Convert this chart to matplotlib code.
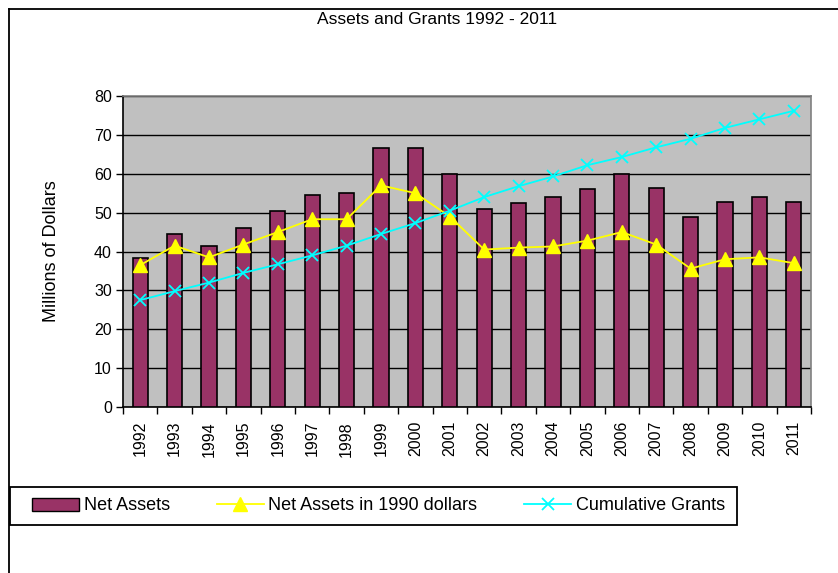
import matplotlib
matplotlib.use("Agg")
import matplotlib.pyplot as plt
from matplotlib.lines import Line2D
from matplotlib.patches import Rectangle, Patch
import numpy as np

years = [str(y) for y in range(1992, 2012)]
net_assets = [38.3, 44.6, 41.3, 46.0, 50.3, 54.6, 55.0, 66.5, 66.5, 60.0,
              51.0, 52.4, 54.0, 56.0, 60.0, 56.4, 49.0, 52.8, 54.0, 52.8]
net_1990 = [36.5, 41.5, 38.5, 41.8, 45.0, 48.3, 48.3, 57.0, 55.0, 49.0,
            40.5, 41.0, 41.3, 42.8, 45.0, 41.8, 35.6, 38.0, 38.5, 37.0]
cum_grants = [27.5, 29.8, 32.0, 34.5, 36.7, 39.0, 41.5, 44.5, 47.3, 50.5,
              54.0, 56.8, 59.3, 62.2, 64.3, 66.8, 69.0, 71.8, 74.0, 76.2]
yticks = [0, 10, 20, 30, 40, 50, 60, 70, 80]

plt.rcParams['font.family'] = ['Liberation Sans', 'DejaVu Sans']
W, H = 838, 573
fig = plt.figure(figsize=(W/100, H/100), dpi=100)

# frame lines (left and top)
fig.add_artist(Line2D([9/W, 9/W], [0, 1-9/H], color='black', lw=1.3, transform=fig.transFigure))
fig.add_artist(Line2D([9/W, 1], [1-9/H, 1-9/H], color='black', lw=1.3, transform=fig.transFigure))

L, R, T, B = 123, 811, 96, 407
ax = fig.add_axes([L/W, 1-B/H, (R-L)/W, (B-T)/H])
ax.set_facecolor('#C0C0C0')
x = np.arange(len(years))
ax.bar(x, net_assets, width=0.44, color='#993366', edgecolor='black', linewidth=1.2, zorder=3)
ax.plot(x, net_1990, color='#FFFF00', lw=1.3, marker='^', markersize=10, zorder=4)
ax.plot(x, cum_grants, color='#00FFFF', lw=1.3, marker='x', markersize=9, markeredgewidth=1.3, zorder=4)

ax.set_xlim(-0.5, len(years)-0.5)
ax.set_ylim(0, 80)
ax.set_yticks(yticks)
ax.set_yticklabels([str(v) for v in yticks], fontsize=11.5)
ax.yaxis.grid(True, color='black', lw=1.0, zorder=1)
ax.set_axisbelow(True)
ax.set_xticks(x)
ax.set_xticklabels(years, rotation=90, fontsize=11.5)
ax.tick_params(axis='x', which='major', length=0, pad=10)
ax.set_xticks(np.arange(-0.5, len(years)), minor=True)
ax.tick_params(axis='x', which='minor', length=5, width=1, direction='out')
ax.tick_params(axis='y', length=5, width=1, direction='out', pad=3)
for s in ['top', 'right']:
    ax.spines[s].set_color('#808080')
    ax.spines[s].set_linewidth(1.2)
for s in ['left', 'bottom']:
    ax.spines[s].set_color('black')
    ax.spines[s].set_linewidth(1.2)

fig.text(51/W, 1-251/H, 'Millions of Dollars', rotation=90, fontsize=13, ha='center', va='center')
fig.text(437/W, 1-20/H, 'Assets and Grants 1992 - 2011', fontsize=12.5, ha='center', va='center')

# legend frame
fig.add_artist(Rectangle((10/W, 1-525/H), 727/W, 38/H, transform=fig.transFigure,
                         facecolor='white', edgecolor='black', lw=1.3))
handles = [
    Patch(facecolor='#993366', edgecolor='black'),
    Line2D([], [], color='#FFFF00', marker='^', markersize=10, lw=1.3),
    Line2D([], [], color='#00FFFF', marker='x', markersize=9, markeredgewidth=1.3, lw=1.3),
]
leg = fig.legend(handles, ['Net Assets', 'Net Assets in 1990 dollars', 'Cumulative Grants'],
                 loc='center left', bbox_to_anchor=(24/W, 1-506/H), ncol=3, fontsize=13,
                 frameon=False, handlelength=2.6,
                 handletextpad=0.25, columnspacing=2.6, borderpad=0.45, borderaxespad=0)
fig.savefig('out.png', dpi=100)
